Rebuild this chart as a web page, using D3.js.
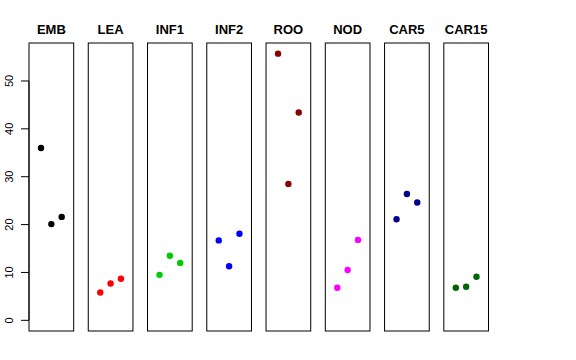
<!DOCTYPE html>
<html><head><meta charset="utf-8">
<script src="https://cdn.jsdelivr.net/npm/d3@7/dist/d3.min.js"></script>
<style>body{margin:0;background:#fff}svg{display:block}</style>
</head><body>
<script>
const categories = ["EMB","LEA","INF1","INF2","ROO","NOD","CAR5","CAR15"];
const colors = ["#000000","#FF0000","#00CD00","#0000FF","#8B0000","#FF00FF","#00008B","#006400"];
const rep1 = [36.0, 5.8, 9.5, 16.7, 55.7, 6.8, 21.1, 6.8];
const rep2 = [20.1, 7.7, 13.5, 11.3, 28.5, 10.5, 26.4, 7.0];
const rep3 = [21.6, 8.7, 12.0, 18.1, 43.4, 16.8, 24.6, 9.1];
const yTicks = [0, 10, 20, 30, 40, 50];

const W = 576, H = 360;
const svg = d3.select("body").append("svg").attr("width", W).attr("height", H);

const allVals = rep1.concat(rep2, rep3);
const M = d3.max(allVals);
const y = d3.scaleLinear().domain([-0.04 * M, 1.04 * M]).range([331, 43]);
const panel = d3.scaleBand().domain(categories).range([29, 488.5]).paddingInner(0.246);
const xin = d3.scaleLinear().domain([-0.16, 4.16]).range([0, panel.bandwidth()]);

categories.forEach((c, i) => {
  const g = svg.append("g").attr("transform", `translate(${panel(c)},0)`);
  g.append("rect").attr("x", 0).attr("y", 43).attr("width", panel.bandwidth()).attr("height", 288)
    .attr("fill", "none").attr("stroke", "#000").attr("stroke-width", 1);
  g.append("text").attr("x", panel.bandwidth() / 2).attr("y", 34).attr("text-anchor", "middle")
    .attr("font-family", "Liberation Sans, Arial, sans-serif").attr("font-size", 13).attr("font-weight", "bold")
    .text(c);
  const vals = [rep1[i], rep2[i], rep3[i]];
  g.selectAll("circle").data(vals).enter().append("circle")
    .attr("cx", (d, j) => xin(j + 1)).attr("cy", d => y(d)).attr("r", 3.2).attr("fill", colors[i]);
});

// y axis
const ax = svg.append("g").attr("transform", "translate(29,0)");
ax.append("line").attr("x1", 0).attr("x2", 0).attr("y1", y(0)).attr("y2", y(50)).attr("stroke", "#000");
yTicks.forEach(t => {
  ax.append("line").attr("x1", -8).attr("x2", 0).attr("y1", y(t)).attr("y2", y(t)).attr("stroke", "#000");
  ax.append("text").attr("transform", `translate(-16,${y(t)}) rotate(-90)`).attr("text-anchor", "middle")
    .attr("font-family", "Liberation Sans, Arial, sans-serif").attr("font-size", 11).text(t);
});
</script>
</body></html>
